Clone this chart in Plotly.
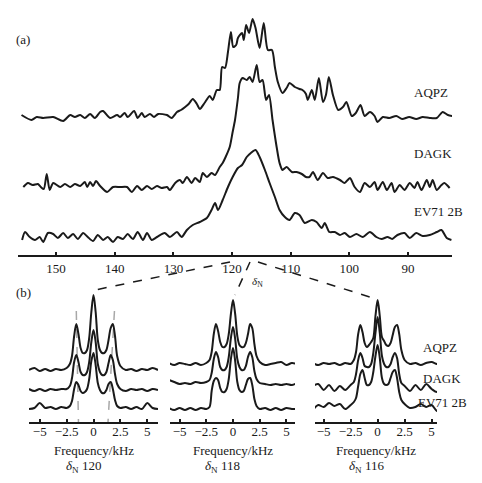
import plotly.graph_objects as go

# the page body keeps an 8 px margin, so the figure is drawn 8 px in and 16 px smaller
PAGE_W, PAGE_H, PAD = 482, 483, 8
W, H = PAGE_W - 2 * PAD, PAGE_H - 2 * PAD
INK = "#1a1a1a"
FONT = '"Liberation Serif", "Times New Roman", Times, serif'

# ---- (a) 15N spectra, chemical shift in ppm, intensity above baseline
aqpz_ppm = [155.9, 154.2, 153.3, 152.2, 150.5, 148.8, 147.6, 146.8, 145.9, 145.1,
            144.2, 143.4, 142.5, 142.0, 140.8, 139.6, 139.1, 138.3, 137.8, 136.7,
            136.1, 135.4, 134.9, 134.0, 133.3, 132.6, 131.1, 130.3, 129.4, 128.7,
            128.0, 127.4, 126.7, 126.0, 125.5, 124.7, 123.8, 123.3, 122.6, 122.1,
            121.7, 121.2, 120.7, 120.2, 119.8, 119.3, 119.0, 118.3, 118.0, 117.6,
            117.1, 116.5, 116.0, 115.3, 114.6, 113.9, 113.2, 112.7, 112.2, 111.4,
            110.7, 110.2, 109.3, 108.5, 108.0, 107.4, 107.1, 106.4, 105.9, 105.2,
            104.5, 104.0, 103.5, 102.8, 101.9, 101.1, 100.5, 99.6, 98.9, 98.1,
            97.4, 96.5, 95.7, 95.2, 94.3, 93.2, 92.0, 91.0, 89.8, 88.6,
            87.5, 86.3, 85.1, 84.1, 83.2, 82.4]
aqpz_int = [2, -3, 0, -1, 0, -4, 2, 0, 2, -1,
            3, -1, 5, 6, -1, 2, 0, 4, 0, 6,
            -1, 4, 0, 3, 0, 3, 2, -1, 5, 7,
            10, 13, 18, 13, 8, 14, 21, 17, 27, 27,
            50, 49, 65, 85, 70, 72, 79, 84, 77, 92,
            84, 98, 89, 69, 94, 67, 67, 50, 35, 24,
            29, 34, 30, 28, 27, 23, 17, 27, 17, 39,
            15, 22, 40, 22, 7, 10, 15, 1, 4, 12,
            1, 5, 1, -5, 0, -1, 1, -2, 0, -2,
            0, -1, -1, 5, 2, 1]

dagk_ppm = [155.6, 154.8, 154.0, 153.1, 152.6, 152.1, 151.6, 151.1, 150.5, 149.3,
            148.5, 147.6, 146.8, 145.9, 145.1, 144.7, 144.2, 143.7, 143.2, 142.5,
            141.3, 140.3, 139.1, 137.9, 137.1, 136.2, 135.4, 134.5, 133.7, 132.8,
            132.0, 131.1, 130.6, 129.7, 128.9, 128.4, 127.7, 126.9, 126.3, 125.5,
            125.0, 124.3, 123.5, 122.9, 122.1, 121.6, 121.1, 120.4, 119.9, 119.5,
            119.0, 118.7, 118.2, 117.5, 117.0, 116.5, 115.8, 115.3, 114.8, 114.2,
            113.7, 113.1, 112.4, 111.9, 111.4, 110.7, 109.8, 109.0, 108.1, 107.4,
            106.8, 106.2, 105.4, 104.5, 103.7, 102.8, 101.6, 100.8, 99.9, 99.1,
            98.2, 97.4, 96.5, 95.7, 95.2, 94.3, 93.6, 92.8, 92.3, 91.4,
            90.6, 89.7, 88.9, 88.4, 87.7, 86.8, 86.3, 85.8, 85.1, 84.3,
            83.8, 82.9]
dagk_int = [0, 4, 2, 3, 0, -2, 13, -3, 4, 0,
            3, 0, 3, 1, 5, 0, 5, 1, 6, 1,
            -5, 0, 0, 0, -5, 1, -3, 1, -2, 1,
            -1, 0, -3, 4, 7, 4, 10, 4, 9, 5,
            14, 10, 14, 12, 20, 24, 30, 40, 55, 67,
            89, 104, 109, 107, 110, 105, 122, 105, 107, 87,
            92, 67, 40, 24, 17, 20, 15, 15, 13, 10,
            10, 15, 7, 14, 9, 10, 7, 4, 9, 0,
            -5, 4, 0, 5, -3, 5, -3, 4, -5, 2,
            -3, 4, -1, 5, -3, 7, 0, 7, -3, 2,
            4, -1]

ev71_ppm = [155.8, 155.3, 154.5, 153.6, 152.8, 152.2, 151.4, 150.5, 149.7, 148.8,
            148.0, 147.1, 146.3, 145.4, 144.6, 143.7, 142.9, 142.0, 141.2, 140.3,
            139.5, 138.6, 137.8, 136.9, 136.1, 135.2, 134.5, 133.7, 132.8, 131.5,
            130.6, 129.4, 128.6, 127.7, 126.7, 125.5, 124.3, 123.5, 122.9, 122.4,
            121.6, 120.7, 119.9, 119.0, 118.3, 117.5, 116.8, 116.0, 115.3, 114.4,
            113.6, 112.7, 111.9, 111.0, 110.2, 109.3, 108.5, 107.6, 106.4, 105.6,
            104.7, 104.2, 103.4, 102.5, 101.6, 100.8, 99.9, 98.8, 97.7, 96.5,
            95.4, 94.5, 93.5, 92.7, 91.8, 90.6, 89.7, 88.6, 87.5, 86.3,
            85.1, 84.3, 83.4, 82.6]
ev71_int = [-2, 6, 1, -2, 1, -4, 5, 4, 0, 5,
            0, 4, -1, 5, 1, -3, 3, -2, 1, -4,
            1, -1, 4, -1, 6, -2, 5, -2, 1, 5,
            1, 6, 1, 8, 13, 16, 20, 28, 35, 28,
            38, 51, 61, 70, 73, 81, 85, 88, 81, 68,
            55, 41, 28, 21, 18, 25, 23, 15, 18, 16,
            10, 15, 6, 6, 3, 5, 1, 4, 1, 6,
            1, -1, 1, -1, 3, 5, 0, 5, 2, 3,
            6, 8, 0, -2]

ppm_ticks = [150, 140, 130, 120, 110, 100, 90]
sample_names = ["AQPZ", "DAGK", "EV71 2B"]

# ---- (b) slices at dN 120 / 118 / 116, frequency in kHz
freq_khz = [-6.0, -5.5, -5.0, -4.5, -4.0, -3.5, -3.0, -2.5,
            -2.2, -2.0, -1.8, -1.6, -1.4, -1.2, -1.0, -0.8, -0.6, -0.4, -0.2,
            0.0,
            0.2, 0.4, 0.6, 0.8, 1.0, 1.2, 1.4, 1.6, 1.8, 2.0, 2.2,
            2.5, 3.0, 3.5, 4.0, 4.5, 5.0, 5.5, 6.0]

slice_shifts = [120, 118, 116]
slice_aqpz = [
    [0, 2, -1, 1, -1, 1, 0, 2, 6, 14, 34, 46, 36, 22, 17, 17, 20, 32, 58, 75,
     58, 30, 20, 17, 17, 20, 30, 42, 46, 34, 14, 4, 0, 1, -1, 1, 0, 2, 0],
    [1, -1, 1, 0, -1, 1, -1, 1, 4, 12, 30, 40, 33, 22, 17, 17, 20, 30, 50, 64,
     50, 28, 19, 17, 17, 21, 30, 40, 36, 20, 8, 2, -1, 0, 1, 2, -1, 1, 0],
    [1, -1, 1, 0, 1, -1, 1, 0, 4, 12, 30, 39, 32, 21, 17, 19, 22, 26, 48, 64,
     48, 27, 23, 19, 18, 21, 29, 37, 39, 30, 14, 4, 0, 1, -1, 1, 2, 0, 0],
]
slice_dagk = [
    [1, -1, 1, -1, 1, 0, 1, 1, 4, 12, 28, 35, 28, 18, 15, 15, 18, 28, 48, 60,
     48, 26, 18, 15, 15, 18, 27, 35, 30, 16, 6, 1, -1, 1, 0, 1, -1, 1, 0],
    [3, 1, -1, 0, -1, 1, 0, 1, 3, 10, 24, 31, 26, 16, 13, 13, 16, 26, 45, 56,
     44, 24, 16, 13, 13, 17, 26, 31, 26, 12, 4, 0, -1, -2, -1, -2, -1, -2, 0],
    [2, 4, -2, 3, -3, 2, -2, 3, 6, 14, 28, 35, 30, 22, 21, 21, 24, 35, 55, 71,
     55, 32, 24, 21, 21, 24, 31, 35, 30, 14, 5, 2, -3, 3, -2, 4, -1, -4, 0],
]
slice_ev71 = [
    [0, 1, 6, 1, 2, 0, 2, 1, 3, 8, 20, 27, 24, 18, 16, 17, 20, 30, 48, 56,
     44, 26, 19, 16, 16, 19, 25, 27, 20, 9, 3, 1, 2, 0, 2, 0, 6, 1, 0],
    [1, -1, 1, -1, 1, -1, 1, 0, 2, 18, 28, 31, 29, 21, 17, 17, 20, 30, 50, 61,
     48, 27, 19, 17, 18, 24, 30, 31, 24, 10, 3, 0, 1, -1, 1, -1, 1, 0, 0],
    [-2, 3, 1, 5, 2, 4, -1, 3, 6, 10, 22, 34, 38, 30, 23, 23, 26, 36, 52, 63,
     50, 30, 24, 23, 24, 30, 36, 38, 30, 16, 8, 4, 0, 1, 4, 1, 3, -3, -2],
]
khz_ticks = [-5, -2.5, 0, 2.5, 5]

# positions (pixels of the page) and stacking offsets
top_offsets = [138, 68, 17]
slice_offsets = [[52, 32, 13], [58, 39, 13], [58, 34, 14]]
slice_px = [(29, 158), (170, 295), (315, 437)]
slice_ranges = [(-6.0, 6.0), (-5.9, 5.8), (-5.8, 5.5)]


def fx(px):
    return (px - PAD) / W


def fy(py):
    return 1 - (py - PAD) / H


fig = go.Figure()

for ppm, inten, off in zip([aqpz_ppm, dagk_ppm, ev71_ppm],
                           [aqpz_int, dagk_int, ev71_int], top_offsets):
    fig.add_trace(go.Scatter(x=ppm, y=[v + off for v in inten], mode="lines",
                             line=dict(color=INK, width=2, shape="spline", smoothing=0.7),
                             xaxis="x", yaxis="y", hoverinfo="skip", showlegend=False))

for i in range(3):
    xa = "x%d" % (i + 2)
    for vals, off in zip([slice_aqpz[i], slice_dagk[i], slice_ev71[i]], slice_offsets[i]):
        fig.add_trace(go.Scatter(x=freq_khz, y=[v + off for v in vals], mode="lines",
                                 line=dict(color=INK, width=2, shape="spline", smoothing=0.9),
                                 xaxis=xa, yaxis="y2", hoverinfo="skip", showlegend=False))

tickfont = dict(family=FONT, size=13, color=INK)
axis_style = dict(showline=True, linecolor=INK, linewidth=2, ticks="inside", ticklen=3,
                  tickwidth=1.5, tickcolor=INK, showgrid=False, zeroline=False,
                  tickfont=tickfont, fixedrange=True)

layout = dict(
    width=W, height=H, margin=dict(l=0, r=0, t=0, b=0),
    paper_bgcolor="white", plot_bgcolor="white",
    font=dict(family=FONT, size=13, color=INK),
    xaxis=dict(domain=[fx(18), fx(452)], range=[156.5, 82.5], anchor="y",
               tickvals=ppm_ticks, **axis_style),
    yaxis=dict(domain=[fy(255), fy(10)], range=[0, 245], visible=False),
    yaxis2=dict(domain=[fy(422), fy(285)], range=[0, 137], visible=False),
)
for i in range(3):
    layout["xaxis%d" % (i + 2)] = dict(domain=[fx(slice_px[i][0]), fx(slice_px[i][1])],
                                       range=list(slice_ranges[i]), anchor="y2",
                                       tickvals=khz_ticks, ticklabelstandoff=-4, **axis_style)
fig.update_layout(**layout)

ann = []


def text(x, y, s, anchor="center", size=13):
    ann.append(dict(x=fx(x), y=fy(y), xref="paper", yref="paper", text=s, showarrow=False,
                    xanchor=anchor, yanchor="middle", font=dict(family=FONT, size=size, color=INK)))


text(14, 40, "(a)", "left")
text(14, 292, "(b)", "left")
for name, py in zip(sample_names, [92, 153, 212]):
    text(412, py, name, "left")
for name, px, py in zip(sample_names, [421, 421, 416], [347, 378, 402]):
    text(px, py, name, "left")
for (x0, x1), shift in zip(slice_px, slice_shifts):
    cx = (x0 + x1) / 2
    text(cx, 450, "Frequency/kHz")
    text(cx - 10, 466, "<i>δ</i><sub>N</sub> %d" % shift)
text(250, 282, "<i>δ</i><sub>N</sub>", "left", 11)
fig.update_layout(annotations=ann)

shapes = []
# dashed connectors from the 1D axis to the slices
for (a, b) in [((230, 262), (95, 290)), ((250, 262), (235, 295)), ((258, 262), (373, 298))]:
    shapes.append(dict(type="line", xref="paper", yref="paper",
                       x0=fx(a[0]), y0=fy(a[1]), x1=fx(b[0]), y1=fy(b[1]),
                       line=dict(color=INK, width=1.5, dash="dash")))
# grey guides through the satellite peaks at dN 120
for top, bot in [(-1.6, -1.4), (1.95, 1.35)]:
    shapes.append(dict(type="line", xref="x2", yref="y2", x0=top, y0=111, x1=bot, y1=0,
                       layer="below", line=dict(color="#a8a8a8", width=1.5, dash="dash")))
fig.update_layout(shapes=shapes)

fig.write_html("out.html")
